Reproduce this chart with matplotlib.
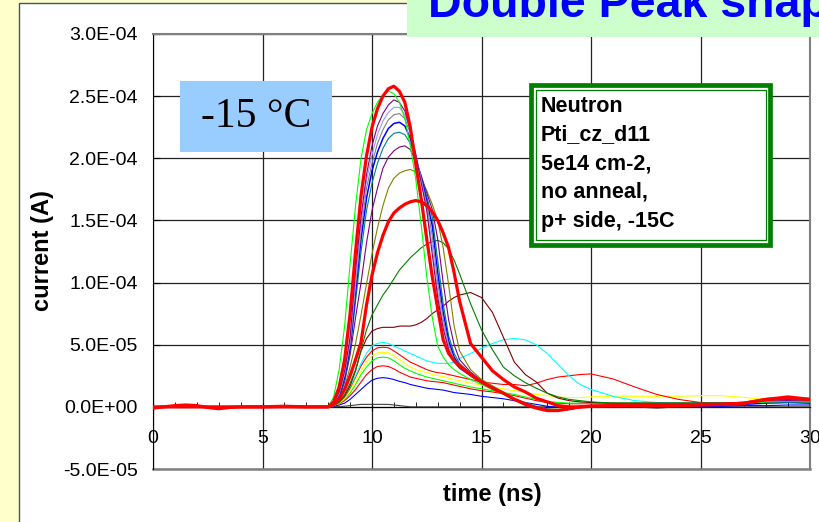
import numpy as np
import matplotlib
matplotlib.use("Agg")
import matplotlib.pyplot as plt
from matplotlib.patches import Rectangle
from matplotlib.ticker import FuncFormatter, MultipleLocator

plt.rcParams['font.family'] = ['Liberation Sans', 'DejaVu Sans']

# time axis (ns): pre-trigger part and the pulse part
t_pre = [0, 0.5, 1, 1.5, 2, 2.5, 3, 3.5, 4, 5, 6, 7, 7.5]
t_main = [8.0, 8.25, 8.5, 8.75, 9.0, 9.25, 9.5, 9.75, 10.0, 10.25,
          10.5, 10.75, 11.0, 11.25, 11.5, 11.75, 12.0, 12.25, 12.5, 12.75,
          13.0, 13.25, 13.5, 13.75, 14.0,
          14.5, 15.0, 15.5, 16.0, 16.5, 17.0, 17.5, 18.0, 18.5, 19.0, 19.5, 20.0,
          21, 22, 23, 24, 25, 26, 27, 28, 29, 30]

# current in units of 1e-5 A
pre_flat = [0.0, 0.0, 0.0, 0.0, 0.0, 0.0, 0.0, 0.0, 0.0, 0.0, 0.0, 0.0, 0.0]
pre_red = [-0.1, 0.0, 0.1, 0.15, 0.1, -0.05, -0.15, -0.05, 0.0, 0.0, 0.05, 0.0, 0.0]

near_zero = [0, 0, 0.02, 0.05, 0.1, 0.15, 0.2, 0.2, 0.2, 0.2,
             0.2, 0.2, 0.15, 0.1, 0.05, 0.0, 0.0, 0.0, 0.0, 0.0,
             0.0, 0.0, 0.0, 0.0, 0.0,
             0.0, 0.0, 0.0, 0.0, 0.0, 0.0, 0.0, 0.0, 0.0, 0.0, 0.0, 0.0,
             0.0, 0.0, -0.1, 0.0, 0.0, 0.0, 0.0, 0.0, 0.0, 0.0]
blue_low = [0, 0.05, 0.15, 0.3, 0.6, 1.0, 1.4, 1.8, 2.15, 2.3,
            2.35, 2.3, 2.2, 2.05, 1.95, 1.8, 1.7, 1.6, 1.5, 1.45,
            1.4, 1.35, 1.25, 1.15, 1.1,
            1.0, 0.85, 0.75, 0.65, 0.5, 0.35, 0.2, 0.05, -0.05, -0.05, 0.0, 0.0,
            0.0, 0.0, 0.05, 0.05, 0.05, 0.05, 0.1, 0.1, 0.15, 0.15]
red_low = [0, 0.1, 0.25, 0.5, 0.9, 1.4, 2.0, 2.6, 3.0, 3.25,
           3.3, 3.25, 3.05, 2.8, 2.6, 2.4, 2.3, 2.2, 2.1, 2.05,
           2.0, 1.95, 1.85, 1.75, 1.65,
           1.45, 1.3, 1.2, 1.05, 0.9, 0.7, 0.5, 0.35, 0.3, 0.25, 0.25, 0.25,
           0.25, 0.25, 0.25, 0.25, 0.25, 0.3, 0.3, 0.45, 0.5, 0.4]
green_low = [0, 0.1, 0.3, 0.6, 1.1, 1.8, 2.6, 3.2, 3.7, 3.95,
             4.0, 3.95, 3.7, 3.4, 3.1, 2.9, 2.7, 2.55, 2.4, 2.3,
             2.2, 2.1, 2.0, 1.9, 1.8,
             1.6, 1.45, 1.3, 1.15, 1.0, 0.8, 0.6, 0.45, 0.35, 0.3, 0.3, 0.3,
             0.3, 0.3, 0.3, 0.3, 0.3, 0.3, 0.35, 0.5, 0.5, 0.4]
yellow = [0, 0.1, 0.3, 0.7, 1.3, 2.1, 2.9, 3.6, 4.1, 4.35,
          4.4, 4.35, 4.1, 3.8, 3.5, 3.2, 3.0, 2.9, 2.75, 2.6,
          2.5, 2.45, 2.3, 2.2, 2.1,
          1.9, 1.75, 1.6, 1.45, 1.3, 1.15, 1.0, 0.9, 0.8, 0.75, 0.75, 0.8,
          0.85, 0.85, 0.85, 0.85, 0.9, 0.9, 0.75, 0.6, 0.6, 0.6]
red_thin = [0, 0.1, 0.35, 0.8, 1.5, 2.4, 3.3, 4.0, 4.5, 4.75,
            4.8, 4.75, 4.5, 4.2, 3.9, 3.6, 3.4, 3.2, 3.0, 2.85,
            2.75, 2.7, 2.6, 2.5, 2.4,
            2.2, 2.0, 1.9, 1.8, 1.8, 1.7, 1.9, 2.2, 2.4, 2.5, 2.6, 2.65,
            2.25, 1.6, 1.0, 0.6, 0.35, 0.3, 0.3, 0.4, 0.4, 0.4]
cyan = [0, 0.1, 0.4, 0.9, 1.6, 2.5, 3.5, 4.3, 4.9, 5.1,
        5.2, 5.1, 4.9, 4.7, 4.5, 4.3, 4.1, 3.9, 3.7, 3.6,
        3.5, 3.5, 3.5, 3.6, 3.9,
        4.3, 4.7, 5.1, 5.4, 5.5, 5.4, 5.0, 4.3, 3.4, 2.5, 1.8, 1.4,
        0.85, 0.5, 0.35, 0.3, 0.3, 0.3, 0.3, 0.4, 0.4, 0.4]
maroon = [0, 0.1, 0.4, 0.9, 1.7, 2.9, 4.5, 5.5, 6.1, 6.3,
          6.4, 6.4, 6.4, 6.5, 6.5, 6.5, 6.6, 6.8, 7.1, 7.5,
          7.8, 8.1, 8.5, 8.8, 9.0,
          9.2, 8.8, 7.6, 5.6, 3.6, 2.6, 2.0, 1.1, 0.7, 0.5, 0.4, 0.35,
          0.3, 0.3, 0.3, 0.3, 0.3, 0.3, 0.35, 0.5, 0.6, 0.5]
dark_green = [0, 0.1, 0.4, 1.0, 1.9, 3.0, 4.6, 6.2, 7.4, 8.2,
              9.0, 9.6, 10.3, 11.0, 11.5, 12.0, 12.4, 12.8, 13.1, 13.3,
              13.4, 13.2, 12.7, 11.8, 10.7,
              8.3, 6.2, 4.6, 3.2, 2.5, 1.95, 1.5, 1.1, 0.8, 0.6, 0.5, 0.4,
              0.3, 0.3, 0.3, 0.3, 0.3, 0.3, 0.3, 0.5, 0.5, 0.4]
olive = [0, 0.2, 0.6, 1.6, 3.2, 5.1, 7.4, 9.9, 12.3, 14.4,
         16.2, 17.6, 18.4, 18.8, 19.0, 19.1, 18.9, 18.3, 17.4, 16.3,
         15.0, 12.8, 9.8, 6.5, 4.5,
         3.0, 2.2, 1.7, 1.2, 0.7, 0.35, 0.05, -0.15, -0.2, -0.1, 0.0, 0.1,
         0.1, 0.1, 0.1, 0.1, 0.15, 0.2, 0.3, 0.45, 0.5, 0.45]
purple2 = [0, 0.2, 0.7, 2.0, 4.2, 7.2, 10.0, 13.2, 15.8, 17.6,
           19.2, 20.1, 20.6, 20.9, 21.0, 20.7, 19.8, 18.6, 17.2, 15.9,
           13.5, 10.0, 7.0, 5.0, 3.8,
           2.8, 2.1, 1.6, 1.1, 0.65, 0.3, 0.0, -0.2, -0.25, -0.15, 0.0, 0.05,
           0.1, 0.1, 0.1, 0.1, 0.15, 0.2, 0.3, 0.4, 0.45, 0.4]
teal = [0, 0.2, 0.8, 2.2, 4.5, 8.5, 12.5, 15.8, 18.0, 19.6,
        20.8, 21.6, 22.0, 22.1, 21.9, 21.2, 19.9, 18.5, 16.9, 15.3,
        11.8, 8.3, 5.7, 4.3, 3.5,
        2.7, 2.0, 1.5, 1.1, 0.6, 0.25, -0.05, -0.2, -0.25, -0.15, 0.0, 0.05,
        0.1, 0.1, 0.1, 0.1, 0.15, 0.2, 0.3, 0.45, 0.5, 0.45]
blue = [0, 0.2, 0.9, 2.4, 4.8, 9.2, 13.5, 16.8, 19.0, 20.5,
        21.6, 22.4, 22.8, 22.9, 22.6, 21.6, 20.0, 18.4, 16.6, 14.6,
        10.8, 7.6, 5.3, 4.0, 3.3,
        2.6, 2.0, 1.5, 1.1, 0.6, 0.25, -0.05, -0.25, -0.3, -0.2, -0.05, 0.05,
        0.1, 0.1, 0.05, 0.1, 0.1, 0.15, 0.2, 0.3, 0.35, 0.3]
gray = [0, 0.3, 1.0, 2.6, 5.1, 9.7, 14.2, 17.6, 19.6, 21.2,
        22.3, 23.1, 23.5, 23.6, 23.2, 22.0, 20.2, 18.3, 16.3, 13.8,
        10.0, 7.1, 5.0, 3.8, 3.2,
        2.5, 1.9, 1.5, 1.1, 0.6, 0.25, -0.05, -0.25, -0.3, -0.2, -0.05, 0.05,
        0.1, 0.1, 0.1, 0.1, 0.15, 0.2, 0.3, 0.4, 0.45, 0.4]
periwinkle = [0, 0.3, 1.1, 2.7, 5.3, 10.2, 14.7, 18.2, 20.3, 21.9,
              23.0, 23.7, 24.1, 24.1, 23.5, 22.2, 20.3, 18.2, 16.0, 13.0,
              9.3, 6.7, 4.8, 3.7, 3.1,
              2.5, 1.9, 1.5, 1.1, 0.6, 0.25, -0.05, -0.25, -0.3, -0.2, -0.05, 0.05,
              0.1, 0.1, 0.1, 0.1, 0.15, 0.2, 0.3, 0.45, 0.5, 0.45]
purple = [0, 0.3, 1.2, 2.9, 5.6, 11.0, 15.3, 18.7, 21.0, 22.6,
          23.6, 24.3, 24.7, 24.5, 23.8, 22.3, 20.3, 18.0, 15.8, 12.3,
          8.8, 6.3, 4.6, 3.6, 3.1,
          2.5, 1.9, 1.5, 1.1, 0.6, 0.25, -0.05, -0.25, -0.3, -0.2, -0.05, 0.05,
          0.1, 0.1, 0.1, 0.1, 0.15, 0.2, 0.3, 0.45, 0.5, 0.45]
green = [0, 0.8, 3.0, 6.5, 11.5, 16.2, 20.0, 22.3, 23.6, 24.5,
         25.1, 25.4, 25.2, 24.5, 23.2, 21.0, 18.3, 14.6, 10.5, 7.2,
         4.9, 4.0, 3.4, 3.0, 2.7,
         2.2, 1.8, 1.4, 1.0, 0.6, 0.2, -0.1, -0.3, -0.3, -0.2, 0.0, 0.1,
         0.1, 0.1, 0.1, 0.1, 0.2, 0.2, 0.3, 0.4, 0.4, 0.4]
red_thick2 = [0, 0.2, 0.6, 1.4, 2.5, 3.8, 5.2, 8.2, 10.6, 12.4,
              13.8, 14.9, 15.6, 16.0, 16.3, 16.5, 16.6, 16.5, 16.2, 15.7,
              15.0, 14.0, 12.8, 10.8, 8.5,
              5.1, 4.0, 2.9, 2.2, 1.6, 1.2, 0.7, 0.4, 0.1, 0.0, 0.0, 0.05,
              0.1, 0.1, 0.1, 0.1, 0.15, 0.2, 0.3, 0.6, 0.7, 0.6]
red_thick1 = [0, 0.4, 1.6, 3.8, 7.5, 12.5, 17.0, 20.2, 22.5, 24.0,
              25.0, 25.6, 25.8, 25.4, 24.5, 22.5, 19.5, 16.7, 13.5, 10.5,
              7.9, 5.4, 4.3, 3.7, 3.3,
              2.6, 2.0, 1.5, 1.1, 0.6, 0.2, -0.1, -0.3, -0.3, -0.15, 0.0, 0.05,
              0.1, 0.1, 0.1, 0.15, 0.2, 0.2, 0.3, 0.6, 0.8, 0.6]

y_ticks = [-5e-5, 0, 5e-5, 1e-4, 1.5e-4, 2e-4, 2.5e-4, 3e-4]
x_ticks = [0, 5, 10, 15, 20, 25, 30]
info_lines = ["Neutron", "Pti_cz_d11", "5e14 cm-2,", "no anneal,", "p+ side, -15C"]

W, H = 819, 522
def fx(px):
    return px / W
def fy(py):
    return 1 - py / H

fig = plt.figure(figsize=(8.19, 5.22), dpi=100, facecolor='#FFFFCC')

# white slide panel
fig.patches.append(Rectangle((fx(19), -0.05), 1.1, fy(3) + 0.05, transform=fig.transFigure,
                             facecolor='white', edgecolor='#3a5a5a', lw=1.0, zorder=-2))

ax = fig.add_axes([fx(153), fy(469), fx(810) - fx(153), fy(34) - fy(469)])
ax.set_facecolor('none')

curves = [
    (near_zero, pre_flat, '#404040', 0.8),
    (blue_low, pre_flat, '#0000FF', 0.8),
    (red_low, pre_flat, '#FF0000', 0.8),
    (green_low, pre_flat, '#00FF00', 0.8),
    (yellow, pre_flat, '#FFFF00', 0.8),
    (red_thin, pre_flat, '#FF0000', 0.8),
    (cyan, pre_flat, '#00FFFF', 0.8),
    (maroon, pre_flat, '#800000', 0.8),
    (dark_green, pre_flat, '#008000', 0.8),
    (olive, pre_flat, '#808000', 0.8),
    (purple2, pre_flat, '#800080', 0.8),
    (teal, pre_flat, '#008080', 0.8),
    (blue, pre_flat, '#0000FF', 1.1),
    (gray, pre_flat, '#808080', 0.8),
    (periwinkle, pre_flat, '#9999FF', 0.8),
    (purple, pre_flat, '#800080', 0.8),
    (green, pre_flat, '#00FF00', 0.8),
    (red_thick2, pre_flat, '#FF0000', 2.3),
    (red_thick1, pre_red, '#FF0000', 2.3),
]
t_all = np.array(t_pre + t_main)
for main, pre, col, lw in curves:
    ax.plot(t_all, np.array(pre + main) * 1e-5, color=col, lw=lw, zorder=3)

ax.set_xlim(0, 30)
ax.set_ylim(-5e-5, 3e-4)
ax.set_xticks(x_ticks)
ax.set_yticks(y_ticks)
ax.xaxis.set_minor_locator(MultipleLocator(1))
ax.yaxis.set_major_formatter(FuncFormatter(lambda v, p: f"{v:.1E}"))
ax.grid(True, which='major', color='#222222', lw=0.9, zorder=1)
ax.set_axisbelow(True)

ax.spines['bottom'].set_position(('data', 0))
ax.spines['bottom'].set_color('black')
ax.spines['left'].set_color('black')
for s in ['top', 'right']:
    ax.spines[s].set_color('#808080')
    ax.spines[s].set_linewidth(1.5)
ax.axhline(-5e-5, color='#808080', lw=1.8, clip_on=False, zorder=2)

ax.tick_params(axis='x', which='major', direction='inout', length=6, pad=13.5, labelsize=14)
ax.tick_params(axis='x', which='minor', direction='in', length=3.5)
ax.tick_params(axis='y', which='major', direction='in', length=5, pad=11, labelsize=14)

fig.text(fx(492), fy(495), "time (ns)", ha='center', va='center', fontsize=17, fontweight='bold')
fig.text(fx(42), fy(251), "current (A)", ha='center', va='center', rotation=90,
         fontsize=17, fontweight='bold')

# temperature label
fig.patches.append(Rectangle((fx(180), fy(152)), fx(332) - fx(180), fy(81) - fy(152),
                             transform=fig.transFigure, facecolor='#99CCFF', edgecolor='none', zorder=2))
fig.text(fx(256), fy(117), "-15 °C", ha='center', va='center', fontsize=30,
         family=['Liberation Serif', 'DejaVu Serif'], zorder=3)

# info box with double green frame
fig.patches.append(Rectangle((fx(531.4), fy(244.6)), fx(769.6) - fx(531.4), fy(85.4) - fy(244.6),
                             transform=fig.transFigure, facecolor='white', edgecolor='#008000',
                             lw=3.4, zorder=2))
fig.patches.append(Rectangle((fx(535.8), fy(239.8)), fx(765.5) - fx(535.8), fy(89.8) - fy(239.8),
                             transform=fig.transFigure, facecolor='none', edgecolor='#008000',
                             lw=0.9, zorder=2))
for i, line in enumerate(info_lines):
    fig.text(fx(541), fy(111.7 + 28.75 * i), line, ha='left', va='baseline',
             fontsize=15.5, fontweight='bold', zorder=3)

# title banner (cut off by the slide edge)
fig.patches.append(Rectangle((fx(407), fy(37)), 1.0, fy(0) - fy(37) + 0.05,
                             transform=fig.transFigure, facecolor='#CCFFCC', edgecolor='none', zorder=2))
fig.text(fx(428), fy(17), "Double Peak shape", ha='left', va='baseline', fontsize=33.5,
         fontweight='bold', color='#0000FF', zorder=3)

fig.savefig("out.png", dpi=100, facecolor=fig.get_facecolor())
